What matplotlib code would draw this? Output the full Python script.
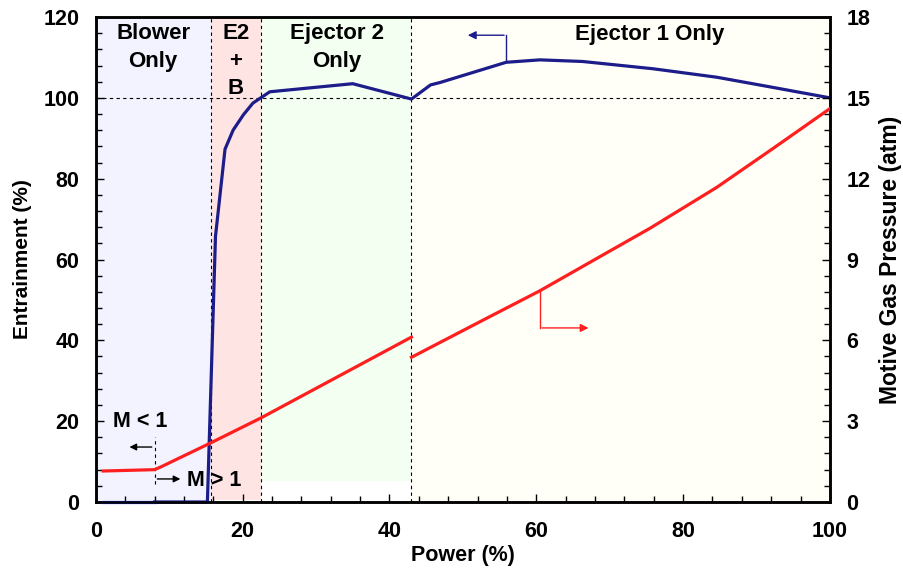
import matplotlib.pyplot as plt
from matplotlib.ticker import MultipleLocator

plt.rcParams['font.family'] = ['Liberation Sans', 'DejaVu Sans']
plt.rcParams['font.weight'] = 'bold'

# entrainment (left axis, %)
blower_x = [1, 8]
blower_y = [0, 0]
entr_x = [8, 15.2, 16.3, 17.6, 18.7, 20.1, 21.4, 22.3, 23.7, 35, 43, 45.6, 46.9,
          55.9, 60.5, 66.3, 75.9, 84.6, 92.2, 100]
entr_y = [0, 0, 65.7, 87.3, 92, 95.8, 98.7, 99.8, 101.5, 103.5, 99.7, 103.2, 103.8,
          108.8, 109.4, 109.0, 107.2, 105.1, 102.6, 100]

# motive gas pressure (right axis, atm)
pres1_x = [1, 8, 9, 15.7, 22.5, 43]
pres1_y = [1.15, 1.2, 1.32, 2.2, 3.12, 6.12]
pres2_x = [43, 51.9, 60.5, 68.7, 75.5, 84.6, 92.3, 100]
pres2_y = [5.37, 6.63, 7.84, 9.11, 10.16, 11.68, 13.13, 14.6]

# operating regions (power %)
regions = [(0, 15.7, '#f3f3ff', 0), (15.7, 22.5, '#ffe4e4', 0.5),
           (22.5, 43, '#f3fff1', 5.3), (43, 100, '#fffff8', 0)]
region_labels = [('Blower\nOnly', 7.8), ('E2\n+\nB', 19.1), ('Ejector 2\nOnly', 32.8)]

navy = '#1c1c8a'
red = '#ff1f1f'

fig = plt.figure(figsize=(9.04, 5.77), dpi=100)
ax = fig.add_axes([0.106, 0.130, 0.812, 0.8405])
ax2 = ax.twinx()

for x0, x1, c, y0 in regions:
    ax.fill_between([x0, x1], y0, 120, color=c, lw=0, zorder=0)

for xv in [15.7, 22.5, 43]:
    ax.axvline(xv, color='black', lw=0.8, ls=(0, (3, 3)), zorder=1)
ax.axhline(100, color='black', lw=0.8, ls=(0, (3, 3)), zorder=1)
ax.plot([8, 8], [4.5, 16], color='black', lw=0.8, ls=(0, (3, 3)), zorder=1)

ax.plot(blower_x, blower_y, color='#1a3cff', lw=2.3, zorder=3, clip_on=False)
ax.plot(entr_x, entr_y, color=navy, lw=2.3, zorder=3, clip_on=False)

# arrows pointing to axes
ax.plot([55.9, 55.9], [108.8, 115.5], color=navy, lw=1)
ax.annotate('', xy=(50.3, 115.5), xytext=(56.0, 115.5),
            arrowprops=dict(arrowstyle='-|>', color=navy, lw=1, mutation_scale=12))
ax.annotate('', xy=(4.2, 13.6), xytext=(8, 13.6),
            arrowprops=dict(arrowstyle='-|>', color='black', lw=1, mutation_scale=10))
ax.annotate('', xy=(11.9, 5.7), xytext=(8, 5.7),
            arrowprops=dict(arrowstyle='-|>', color='black', lw=1, mutation_scale=10))

for txt, xc in region_labels:
    ax.text(xc, 118.4, txt, ha='center', va='top', fontsize=16,
            fontweight='bold', linespacing=1.4)
ax.text(75.5, 115.7, 'Ejector 1 Only', ha='center', va='center', fontsize=16,
        fontweight='bold')
ax.text(6.0, 19.8, 'M < 1', ha='center', va='center', fontsize=15.5, fontweight='bold')
ax.text(12.4, 5.4, 'M > 1', ha='left', va='center', fontsize=15.5, fontweight='bold')

ax2.plot(pres1_x, pres1_y, color=red, lw=2.3, zorder=3)
ax2.plot(pres2_x, pres2_y, color=red, lw=2.3, zorder=3)
ax2.plot([60.5, 60.5], [7.84, 6.46], color=red, lw=1)
ax2.annotate('', xy=(67.5, 6.46), xytext=(60.4, 6.46),
             arrowprops=dict(arrowstyle='-|>', color=red, lw=1, mutation_scale=12))

ax.set_xlim(0, 100)
ax.set_ylim(0, 120)
ax2.set_ylim(0, 18)
ax.xaxis.set_major_locator(MultipleLocator(20))
ax.xaxis.set_minor_locator(MultipleLocator(4))
ax.yaxis.set_major_locator(MultipleLocator(20))
ax.yaxis.set_minor_locator(MultipleLocator(4))
ax2.yaxis.set_major_locator(MultipleLocator(3))
ax2.yaxis.set_minor_locator(MultipleLocator(0.6))

for a in (ax, ax2):
    for s in a.spines.values():
        s.set_linewidth(1.8)
    a.tick_params(which='both', direction='in', labelsize=15.5, width=1)
    a.tick_params(which='major', length=6, pad=12)
    a.tick_params(which='minor', length=4)
ax.tick_params(axis='x', pad=14)
ax.tick_params(top=False, which='both')
for lab in ax.get_xticklabels() + ax.get_yticklabels() + ax2.get_yticklabels():
    lab.set_fontweight('bold')

ax.set_xlabel('Power (%)', fontsize=15.5, fontweight='bold', labelpad=2)
ax.set_ylabel('Entrainment (%)', fontsize=15, fontweight='bold', labelpad=8)
ax2.set_ylabel('Motive Gas Pressure (atm)', fontsize=16.5, fontweight='bold', labelpad=6)

fig.savefig('out.png', dpi=100)
